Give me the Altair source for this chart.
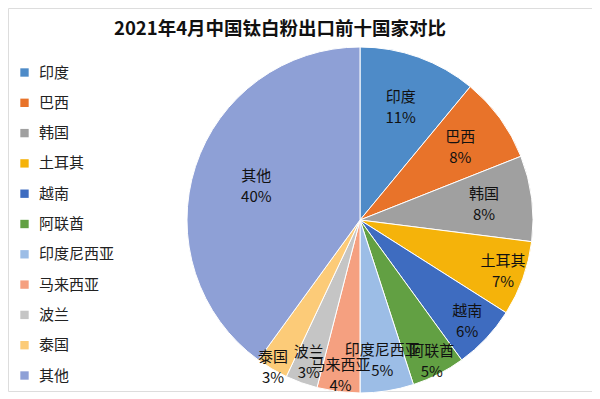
import altair as alt
import pandas as pd
import math

countries = ["印度", "巴西", "韩国", "土耳其", "越南", "阿联酋", "印度尼西亚", "马来西亚", "波兰", "泰国", "其他"]
shares = [11, 8, 8, 7, 6, 5, 5, 4, 3, 3, 40]
colors = ["#4E8BC8", "#E8732A", "#A0A0A0", "#F5B30A", "#3E6CC0", "#62A043",
          "#9CBDE6", "#F5A080", "#C5C5C5", "#FCCB78", "#8EA0D6"]

# label placement (style): distance of each data label from the pie centre, px
label_radius = [120, 124, 125, 152, 147, 158, 142, 156, 151, 171, 109]

df = pd.DataFrame({"country": countries, "share": shares, "order": list(range(len(countries)))})
lab = df.assign(r=label_radius)

FONT = "Noto Sans CJK SC"
cx, cy = 352, 212

arcs = alt.Chart(df).mark_arc(outerRadius=173, stroke="white", strokeWidth=1).encode(
    theta=alt.Theta("share:Q", stack=True),
    order=alt.Order("order:Q"),
    x=alt.value(cx), y=alt.value(cy),
    color=alt.Color("country:N", sort=countries,
                    scale=alt.Scale(domain=countries, range=colors),
                    legend=alt.Legend(title=None, orient="none", legendX=9, legendY=57,
                                      symbolType="square", symbolSize=70, symbolStrokeWidth=0,
                                      labelFont=FONT, labelFontSize=15, labelColor="#222",
                                      rowPadding=14.3, labelOffset=7)),
)

labels = alt.Chart(lab).transform_window(
    cum="sum(share)", sort=[alt.SortField("order")], frame=[None, 0]
).transform_calculate(
    mid="datum.cum - datum.share / 2",
    label="datum.country + '\\n' + datum.share + '%'",
).mark_text(font=FONT, fontSize=15, color="#111", lineBreak="\n", lineHeight=21,
            baseline="middle", align="center", dy=-10).encode(
    theta=alt.Theta("mid:Q", stack=None, scale=alt.Scale(domain=[0, 100], range=[0, 2 * math.pi])),
    x=alt.value(cx), y=alt.value(cy),
    radius=alt.Radius("r:Q", scale=None),
    text="label:N",
)

chart = alt.layer(arcs, labels).resolve_scale(theta="independent").properties(
    width=584, height=383,
    title=alt.TitleParams("2021年4月中国钛白粉出口前十国家对比", font=FONT, fontSize=18.5,
                          fontWeight="bold", color="#111", anchor="start", dx=106, offset=-30),
    padding=0,
).configure_view(strokeWidth=0).configure(background="white")

chart.save("out.html", embed_options={"renderer": "svg", "actions": False})
